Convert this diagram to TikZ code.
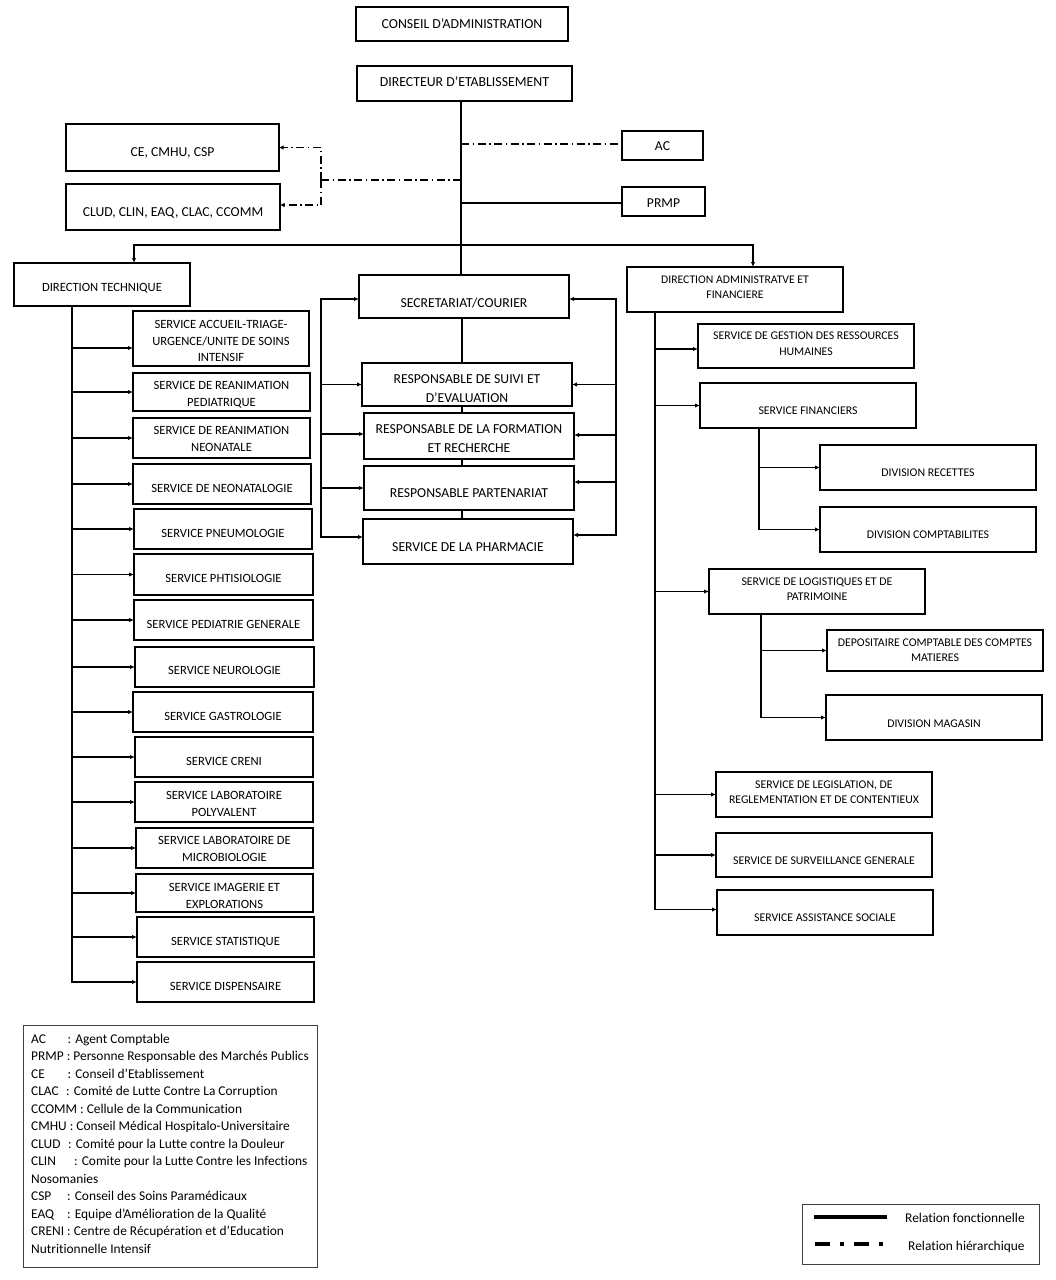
\documentclass[tikz,border=0pt]{standalone}
\usepackage{fontspec}
\setmainfont{Carlito}[Ligatures=NoCommon]
\usetikzlibrary{arrows.meta}
\tikzset{
  box/.style={draw, rectangle, line width=1.8pt, inner sep=0pt, outer sep=0pt},
  lbl/.style={align=center, inner sep=0pt, outer sep=0pt, yshift=-1.5pt},
  conn/.style={line width=1.8pt},
  arr/.style={conn, -{Latex[length=5pt,width=4.5pt]}},
  darr/.style={conn, {Latex[length=5pt,width=4.5pt]}-{Latex[length=5pt,width=4.5pt]}},
  hier/.style={line width=1.5pt, dash pattern=on 8pt off 3.5pt on 1.5pt off 3.5pt},
  hierarr/.style={hier, -{Latex[length=4.5pt,width=4.5pt]}},
  fT/.style={font=\fontsize{13.8}{18}\selectfont},
  fCE/.style={font=\fontsize{13.7}{18}\selectfont},
  fAC/.style={font=\fontsize{13.6}{18}\selectfont},
  fL/.style={font=\fontsize{12.6}{17}\selectfont},
  fLa/.style={font=\fontsize{12.6}{16.5}\selectfont},
  fM/.style={font=\fontsize{13.7}{19}\selectfont},
  fR/.style={font=\fontsize{11.8}{15.5}\selectfont},
  fD/.style={font=\fontsize{11.7}{15}\selectfont},
  fLg/.style={font=\fontsize{13.4}{17.5}\selectfont},
}
% #1 text style, #2 name, #3 x1, #4 y1, #5 x2, #6 y2, #7 text y, #8 text
\newcommand\bx[8][]{%
  \node[box, minimum width={(#5-#3)*1pt}, minimum height={(#6-#4)*1pt}] (#2) at ({(#3+#5)/2},{(#4+#6)/2}) {};
  \node[lbl,#1] (#2-t) at ({(#3+#5)/2},#7) {\strut#8\strut};
}
\begin{document}
\begin{tikzpicture}[x=1pt,y=-1pt]
\fill[white] (0,0) rectangle (1056,1280);
\useasboundingbox (0,0) rectangle (1056,1280);

% ---- top ----
\node[box, line width=2.8pt, minimum width=212pt, minimum height=34pt] (CA) at (462,24) {};
\node[lbl,fT] (CA-t) at (462,23.5) {\strut CONSEIL D’ADMINISTRATION\strut};
\bx[fT]{DE}{357}{66}{572}{101}{81}{DIRECTEUR D’ETABLISSEMENT}
\bx[fCE]{CE}{66}{124}{279}{171}{151}{CE, CMHU, CSP}
\bx[fCE]{CLUD}{66}{184}{280}{230}{211}{CLUD, CLIN, EAQ, CLAC, CCOMM}
\bx[fAC]{AC}{622}{131}{703}{160}{145.5}{AC}
\bx[fAC]{PRMP}{622}{187}{705}{216}{202}{PRMP}

% ---- directions ----
\bx[fL]{DT}{14}{263}{190}{306}{287}{DIRECTION TECHNIQUE}
\bx[fD]{DAF}{627}{267}{843}{312}{286.5}{DIRECTION ADMINISTRATVE ET\\FINANCIERE}

% ---- middle ----
\bx[fM]{SEC}{359}{275}{569}{318}{302}{SECRETARIAT/COURIER}
\bx[fM]{RSE}{362}{363}{572}{406}{387.5}{RESPONSABLE DE SUIVI ET\\D’EVALUATION}
\bx[fM]{RFR}{364}{413}{574}{459}{437.5}{RESPONSABLE DE LA FORMATION\\ET RECHERCHE}
\bx[fM]{RP}{364}{466}{574}{510}{492}{RESPONSABLE PARTENARIAT}
\bx[fM]{SP}{363}{519}{573}{564}{546}{SERVICE DE LA PHARMACIE}

% ---- left column ----
\bx[fLa]{s1}{133}{311}{309}{366}{340.5}{SERVICE ACCUEIL-TRIAGE-\\URGENCE/UNITE DE SOINS\\INTENSIF}
\bx[fL]{s2}{133}{373}{310}{411}{393.5}{SERVICE DE REANIMATION\\PEDIATRIQUE}
\bx[fL]{s3}{133}{418}{310}{458}{438.5}{SERVICE DE REANIMATION\\NEONATALE}
\bx[fL]{s4}{133}{464}{311}{504}{488}{SERVICE DE NEONATALOGIE}
\bx[fL]{s5}{134}{509}{312}{549}{533}{SERVICE PNEUMOLOGIE}
\bx[fL]{s6}{134}{554}{313}{595}{578}{SERVICE PHTISIOLOGIE}
\bx[fL]{s7}{134}{600}{313}{640}{624}{SERVICE PEDIATRIE GENERALE}
\bx[fL]{s8}{135}{647}{314}{687}{670}{SERVICE NEUROLOGIE}
\bx[fL]{s9}{133}{692}{313}{732}{716}{SERVICE GASTROLOGIE}
\bx[fL]{s10}{135}{737}{313}{777}{761}{SERVICE CRENI}
\bx[fL]{s11}{135}{782}{313}{822}{803.5}{SERVICE LABORATOIRE\\POLYVALENT}
\bx[fL]{s12}{136}{828}{313}{868}{848.5}{SERVICE LABORATOIRE DE\\MICROBIOLOGIE}
\bx[fL]{s13}{136}{874}{313}{912}{895.5}{SERVICE IMAGERIE ET\\EXPLORATIONS}
\bx[fL]{s14}{137}{917}{314}{957}{941}{SERVICE STATISTIQUE}
\bx[fL]{s15}{137}{962}{314}{1002}{986}{SERVICE DISPENSAIRE}

% ---- right column ----
\bx[fR]{SGRH}{698}{324}{914}{368}{343}{SERVICE DE GESTION DES RESSOURCES\\HUMAINES}
\bx[fR]{SF}{700}{383}{916}{428}{410}{SERVICE FINANCIERS}
\bx[fR]{DR}{820}{445}{1036}{490}{472}{DIVISION RECETTES}
\bx[fR]{DC}{820}{507}{1036}{552}{534}{DIVISION COMPTABILITES}
\bx[fR]{SLP}{709}{569}{925}{614}{588.5}{SERVICE DE LOGISTIQUES ET DE\\PATRIMOINE}
\bx[fR]{DCCM}{827}{630}{1043}{671}{649.5}{DEPOSITAIRE COMPTABLE DES COMPTES\\MATIERES}
\bx[fR]{DM}{826}{695}{1042}{740}{723}{DIVISION MAGASIN}
\bx[fR]{SLRC}{716}{772}{932}{817}{791.5}{SERVICE DE LEGISLATION, DE\\REGLEMENTATION ET DE CONTENTIEUX}
\bx[fR]{SSG}{716}{833}{932}{877}{860}{SERVICE DE SURVEILLANCE GENERALE}
\bx[fR]{SAS}{717}{890}{933}{935}{917}{SERVICE ASSISTANCE SOCIALE}

% ---- top connectors ----
\coordinate (cx) at (461,0);
\draw[conn] (DE.south -| cx) -- (SEC.north -| cx);
\coordinate (jAC) at (461,144);
\draw[hier] (jAC) -- (jAC -| AC.west);
\coordinate (jH) at (461,180);
\coordinate (hv) at (321,180);
\draw[hier] (jH) -- (hv);
\draw[hierarr] (hv) |- (CE.east);
\coordinate (clud) at ([yshift=2pt]CLUD.east);
\draw[hierarr] (hv) |- (clud);
\coordinate (jP) at (461,203);
\draw[conn] (jP) -- (jP -| PRMP.west);
\coordinate (jB) at (461,245);
\coordinate (bl) at (134,245);
\coordinate (br) at (753,245);
\draw[arr] (jB) -| (DT.north -| bl);
\draw[arr] (jB) -| (DAF.north -| br);

% ---- middle connectors ----
\coordinate (mx) at (462,0);
\draw[conn] (SEC.south -| mx) -- (RSE.north -| mx);
\draw[conn] (RSE.south -| mx) -- (RFR.north -| mx);
\draw[conn] (RFR.south -| mx) -- (RP.north -| mx);
\draw[conn] (RP.south -| mx) -- (SP.north -| mx);
\coordinate (ml) at (321,0);
\coordinate (mr) at (616,0);
\coordinate (secl) at ([yshift=-2.5pt]SEC.west);
\coordinate (secr) at ([yshift=-2.5pt]SEC.east);
\coordinate (spl) at ([yshift=4.5pt]SP.west);
\coordinate (spr) at ([yshift=6.5pt]SP.east);
\coordinate (rfrl) at ([yshift=2pt]RFR.west);
\coordinate (rfrr) at ([yshift=1pt]RFR.east);
\coordinate (rpr) at ([yshift=6pt]RP.east);
\draw[darr] (secl) -| (spl -| ml) -- (spl);
\draw[arr] (RSE.west -| ml) -- (RSE.west);
\draw[arr] (rfrl -| ml) -- (rfrl);
\draw[arr] (RP.west -| ml) -- (RP.west);
\draw[darr] (secr) -| (spr -| mr) -- (spr);
\draw[arr] (RSE.east -| mr) -- (RSE.east);
\draw[arr] (rfrr -| mr) -- (rfrr);
\draw[arr] (rpr -| mr) -- (rpr);

% ---- left column connectors ----
\coordinate (tl) at (72,0);
\draw[arr] (DT.south -| tl) |- (s15.west);
\coordinate (s1a) at ([yshift=-9.5pt]s1.west);
\draw[arr] (s1a -| tl) -- (s1a);
\foreach \i in {2,...,14} {\draw[arr] (s\i.west -| tl) -- (s\i.west);}

% ---- right column connectors ----
\coordinate (tr) at (655,0);
\coordinate (sasa) at ([yshift=3pt]SAS.west);
\draw[arr] (DAF.south -| tr) |- (sasa);
\coordinate (sgrha) at ([yshift=-3pt]SGRH.west);
\draw[arr] (sgrha -| tr) -- (sgrha);
\foreach \n in {SF,SLP,SLRC,SSG} {\draw[arr] (\n.west -| tr) -- (\n.west);}
\coordinate (t2) at (759,0);
\draw[arr] (SF.south -| t2) |- (DC.west);
\draw[arr] (DR.west -| t2) -- (DR.west);
\coordinate (t3) at (761,0);
\draw[arr] (SLP.south -| t3) |- (DM.west);
\draw[arr] (DCCM.west -| t3) -- (DCCM.west);

% ---- legend of abbreviations ----
\node[box, line width=1pt, draw=black!75, minimum width=294pt, minimum height=242pt] (LEG) at (170,1146) {};
\node[fLg, align=left, inner sep=0pt, anchor=north west] (LEG-t) at (31,1031) {\strut\makebox[36.5pt][l]{AC}: Agent Comptable\\
PRMP : Personne Responsable des Marchés Publics\\
\makebox[36.5pt][l]{CE}: Conseil d’Etablissement\\
\makebox[35pt][l]{CLAC}: Comité de Lutte Contre La Corruption\\
CCOMM : Cellule de la Communication\\
CMHU : Conseil Médical Hospitalo-Universitaire\\
\makebox[37pt][l]{CLUD}: Comité pour la Lutte contre la Douleur\\
\makebox[43pt][l]{CLIN}: Comite pour la Lutte Contre les Infections\\
Nosomanies\\
\makebox[36pt][l]{CSP}: Conseil des Soins Paramédicaux\\
\makebox[36pt][l]{EAQ}: Equipe d’Amélioration de la Qualité\\
CRENI : Centre de Récupération et d’Education\\
Nutritionnelle Intensif\strut};

% ---- legend of relations ----
\node[box, line width=1pt, draw=black!75, minimum width=237pt, minimum height=60pt] (REL) at (920.5,1234) {};
\coordinate (r1a) at (814,1217);
\coordinate (r1b) at (887,1217);
\draw[line width=3.3pt] (r1a) -- (r1b);
\coordinate (r2a) at (815,1244);
\coordinate (r2b) at (884,1244);
\draw[line width=3.3pt, dash pattern=on 15pt off 10pt on 4pt off 10pt] (r2a) -- (r2b);
\node[fLg, inner sep=0pt, anchor=west, yshift=-1pt] (RF) at (905,1218) {\strut Relation fonctionnelle\strut};
\node[fLg, inner sep=0pt, anchor=west, yshift=-1pt] (RH) at (908,1246) {\strut Relation hiérarchique\strut};
\end{tikzpicture}
\end{document}
